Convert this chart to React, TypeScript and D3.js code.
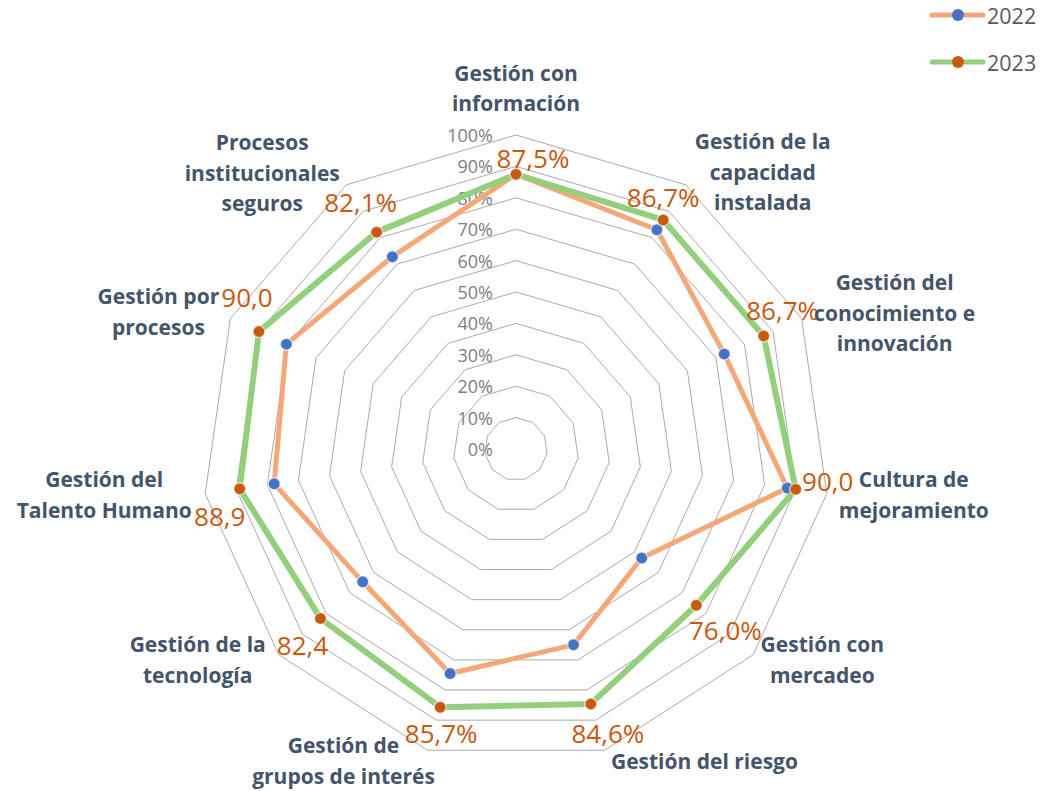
import React from "react";
import * as d3 from "d3";

const categories: string[][] = [
  ["Gestión con", "información"],
  ["Gestión de la", "capacidad", "instalada"],
  ["Gestión del", "conocimiento e", "innovación"],
  ["Cultura de", "mejoramiento"],
  ["Gestión con", "mercadeo"],
  ["Gestión del riesgo"],
  ["Gestión de", "grupos de interés"],
  ["Gestión de la", "tecnología"],
  ["Gestión del", "Talento Humano"],
  ["Gestión por", "procesos"],
  ["Procesos", "institucionales", "seguros"],
];

const values2022: number[] = [87.5, 83.0, 72.9, 87.3, 53.0, 65.0, 74.5, 64.6, 77.8, 80.4, 72.8];
const values2023: number[] = [87.5, 86.7, 86.7, 90.0, 76.0, 84.6, 85.7, 82.4, 88.9, 90.0, 82.1];
const dataLabels2023: string[] = ["87,5%", "86,7%", "86,7%", "90,0", "76,0%", "84,6%", "85,7%", "82,4", "88,9", "90,0", "82,1%"];
const ticks: number[] = [0, 10, 20, 30, 40, 50, 60, 70, 80, 90, 100];
const seriesNames: string[] = ["2022", "2023"];

// layout (label offsets relative to the outer vertex / data point)
const catOffsets: [number, number][] = [
  [0, -47], [77, -13], [93, -6], [87, 1], [69, 5], [100, 11],
  [-84, 10], [-81, 5], [-101, 1], [-72, -7], [-84, -12],
];
const dataLabelOffsets: [number, number][] = [
  [17, -16], [0, -23], [19, -26], [32, -8], [29, 25], [17, 29],
  [1, 26], [-18, 27], [-20, 27], [-12, -35], [-16, -30],
];

const W = 1044;
const H = 791;
const cx = 516;
const cy = 449;
const R = 314;

const n = categories.length;
const angle = d3.scaleLinear().domain([0, n]).range([0, 2 * Math.PI]);
const r = d3.scaleLinear().domain([0, 100]).range([0, R]);

const pt = (i: number, v: number): [number, number] => {
  const a = angle(i);
  return [cx + r(v) * Math.sin(a), cy - r(v) * Math.cos(a)];
};

const lineColors = ["#F4A878", "#93CF7C"];
const markerColors = ["#4472C4", "#C55A11"];
const lineWidths = [5, 6];
const FONT = "'Open Sans', Lato, sans-serif";

export default function App() {
  const ringPath = (v: number) =>
    d3.line().curve(d3.curveLinearClosed)(d3.range(n).map((i) => pt(i, v))) || "";
  const seriesPath = (vals: number[]) =>
    d3.line().curve(d3.curveLinearClosed)(vals.map((v, i) => pt(i, v))) || "";
  const all = [values2022, values2023];

  return (
    <svg width={W} height={H} style={{ position: "absolute", left: 0, top: 0, background: "#fff" }}>
      {/* grid */}
      <g fill="none" stroke="#ABABAB" strokeWidth={1}>
        {ticks.filter((t) => t > 0).map((t) => (
          <path key={t} d={ringPath(t)} />
        ))}
      </g>
      {/* tick labels */}
      <g fontFamily={FONT} fontSize={18} fill="#808080" textAnchor="end">
        {ticks.map((t) => (
          <text key={t} x={cx - 23} y={cy - r(t)} dominantBaseline="central">
            {t}%
          </text>
        ))}
      </g>
      {/* series */}
      {all.map((vals, s) => (
        <g key={s}>
          <path d={seriesPath(vals)} fill="none" stroke={lineColors[s]} strokeWidth={lineWidths[s]} strokeLinejoin="round" />
          {vals.map((v, i) => {
            const [x, y] = pt(i, v);
            return <circle key={i} cx={x} cy={y} r={6} fill={markerColors[s]} stroke="#fff" strokeOpacity={0.6} strokeWidth={1.5} />;
          })}
        </g>
      ))}
      {/* data labels */}
      <g fontFamily={FONT} fontSize={26} fill="#C55A11" textAnchor="middle">
        {values2023.map((v, i) => {
          const [x, y] = pt(i, v);
          return (
            <text key={i} x={x + dataLabelOffsets[i][0]} y={y + dataLabelOffsets[i][1]} dominantBaseline="central">
              {dataLabels2023[i]}
            </text>
          );
        })}
      </g>
      {/* category labels */}
      <g fontFamily={FONT} fontSize={21} fontWeight="bold" fill="#44546A" textAnchor="middle">
        {categories.map((lines, i) => {
          const [vx, vy] = pt(i, 100);
          const x = vx + catOffsets[i][0];
          const y = vy + catOffsets[i][1];
          const lh = 30.5;
          const y0 = y - ((lines.length - 1) * lh) / 2;
          return (
            <text key={i} x={x} y={y0} dominantBaseline="central">
              {lines.map((l, j) => (
                <tspan key={j} x={x} y={y0 + j * lh}>
                  {l}
                </tspan>
              ))}
            </text>
          );
        })}
      </g>
      {/* legend */}
      <g fontFamily={FONT} fontSize={21.5} fill="#595959">
        {seriesNames.map((name, s) => {
          const ly = 15 + s * 47;
          return (
            <g key={name}>
              <line x1={932} x2={983} y1={ly} y2={ly} stroke={lineColors[s]} strokeWidth={5} strokeLinecap="round" />
              <circle cx={958} cy={ly} r={6} fill={markerColors[s]} />
              <text x={987} y={ly} dominantBaseline="central">
                {name}
              </text>
            </g>
          );
        })}
      </g>
    </svg>
  );
}
